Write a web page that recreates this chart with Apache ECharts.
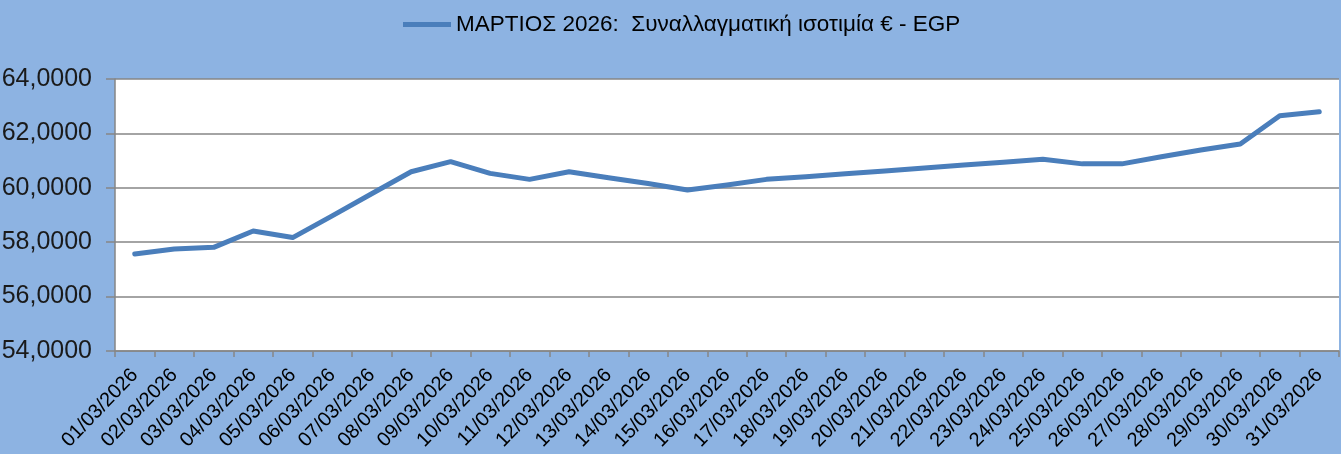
<!DOCTYPE html>
<html><head><meta charset="utf-8">
<script src="https://cdn.jsdelivr.net/npm/echarts@6/dist/echarts.min.js"></script>
<style>html,body{margin:0;padding:0;background:#8DB3E2}#c{width:1341px;height:454px}</style>
</head><body><div id="c"></div>
<script>
const seriesName = 'ΜΑΡΤΙΟΣ 2026:  Συναλλαγματική ισοτιμία € - EGP';
const categories = ['01/03/2026','02/03/2026','03/03/2026','04/03/2026','05/03/2026','06/03/2026','07/03/2026','08/03/2026','09/03/2026','10/03/2026','11/03/2026','12/03/2026','13/03/2026','14/03/2026','15/03/2026','16/03/2026','17/03/2026','18/03/2026','19/03/2026','20/03/2026','21/03/2026','22/03/2026','23/03/2026','24/03/2026','25/03/2026','26/03/2026','27/03/2026','28/03/2026','29/03/2026','30/03/2026','31/03/2026'];
const values = [57.57,57.75,57.81,58.41,58.17,58.97,59.78,60.59,60.96,60.53,60.31,60.59,60.37,60.16,59.92,60.10,60.31,60.41,60.52,60.62,60.73,60.84,60.94,61.05,60.88,60.88,61.14,61.39,61.61,62.65,62.80];
const yMin = 54, yMax = 64, yStep = 2;
const font = "'Liberation Sans',sans-serif";
const yFont = "'Liberation Sans Narrow','Liberation Sans',sans-serif";
const chart = echarts.init(document.getElementById('c'));
chart.setOption({
  backgroundColor: '#8DB3E2',
  animation: false,
  legend: {
    top: 8, left: 398, itemWidth: 48, itemHeight: 5, itemGap: 5,
    textStyle: {fontFamily: font, fontSize: 22.5, color: '#000'},
    data: [{name: seriesName, icon: 'path://M0,0 L48,0 L48,5 L0,5 Z'}]
  },
  grid: {left: 115, right: 2, top: 79, bottom: 103, outerBoundsMode: 'none', show: true, backgroundColor: '#fff', borderWidth: 0},
  xAxis: {
    type: 'category', data: categories, boundaryGap: true,
    axisLine: {lineStyle: {color: '#868686', width: 1.5}},
    axisTick: {show: true, alignWithLabel: false, length: 6, lineStyle: {color: '#868686', width: 1.5}},
    axisLabel: {rotate: 46, interval: 0, fontFamily: font, fontSize: 20, color: '#000', margin: 21}
  },
  yAxis: {
    type: 'value', min: yMin, max: yMax, interval: yStep,
    axisLine: {show: true, lineStyle: {color: '#868686', width: 1.5}},
    axisTick: {show: true, length: 9, lineStyle: {color: '#868686', width: 1.5}},
    splitLine: {lineStyle: {color: '#868686', width: 1.5}},
    axisLabel: {fontFamily: yFont, fontSize: 25, color: '#1a1a1a', margin: 23,
      formatter: v => String(v) + ',0000'}
  },
  series: [{
    name: seriesName, type: 'line', data: values, symbol: 'none',
    lineStyle: {color: '#4A7EBB', width: 5, cap: 'round', join: 'round'},
    itemStyle: {color: '#4A7EBB'}
  }]
});
</script></body></html>
